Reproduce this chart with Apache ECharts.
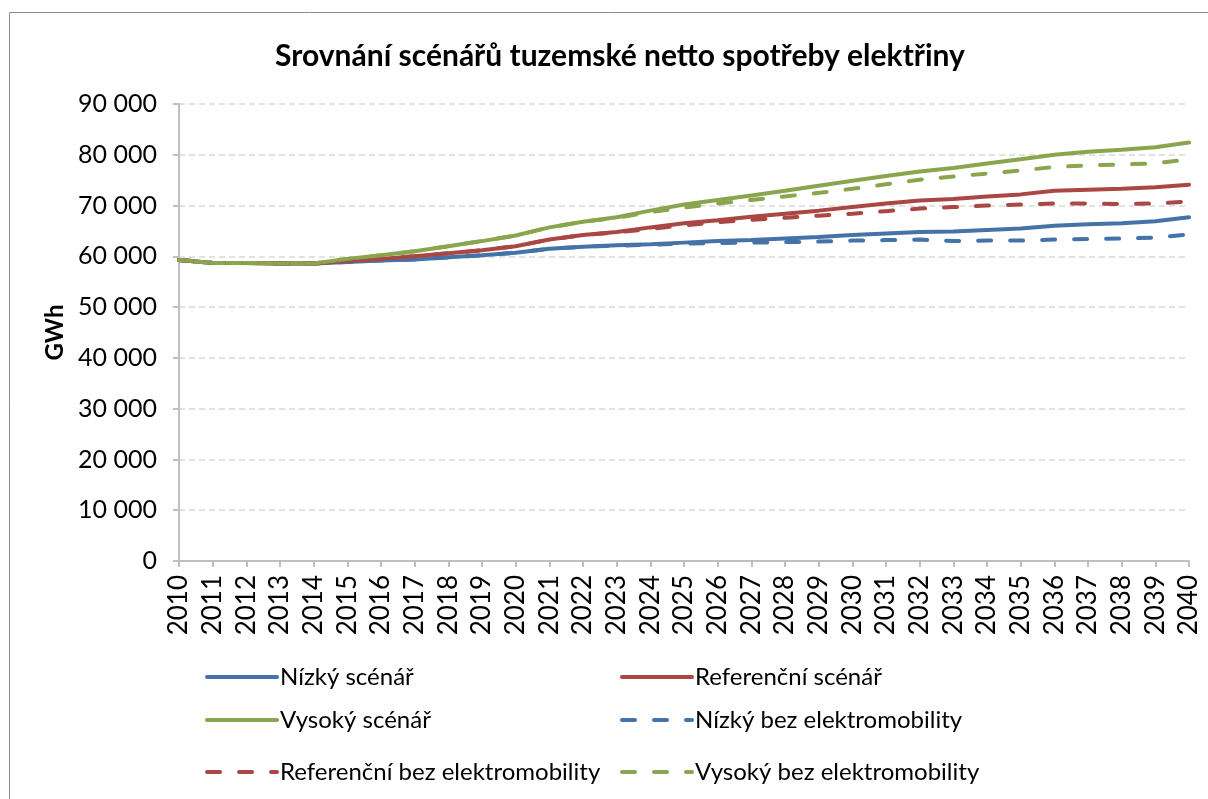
<!DOCTYPE html>
<html>
<head>
<meta charset="utf-8">
<script src="https://cdn.jsdelivr.net/npm/echarts@6/dist/echarts.min.js"></script>
<style>
  html, body { margin: 0; padding: 0; background: #fff; }
  #chart { width: 1208px; height: 799px; }
</style>
</head>
<body>
<div id="chart"></div>
<script>
const years = ['2010','2011','2012','2013','2014','2015','2016','2017','2018','2019','2020',
  '2021','2022','2023','2024','2025','2026','2027','2028','2029','2030',
  '2031','2032','2033','2034','2035','2036','2037','2038','2039','2040']

// GWh
const nizky = [59300, 58700, 58700, 58600, 58600, 58900, 59200, 59400, 59800, 60200, 60700,
  61500, 61900, 62200, 62400, 62700, 63000, 63200, 63500, 63800, 64200,
  64500, 64800, 64900, 65200, 65500, 66000, 66300, 66500, 66900, 67700]
const referencni = [59300, 58700, 58700, 58600, 58600, 59100, 59500, 60000, 60600, 61200, 62000,
  63300, 64200, 64800, 65700, 66500, 67100, 67800, 68400, 69000, 69700,
  70400, 71000, 71300, 71800, 72200, 72900, 73100, 73300, 73600, 74100]
const vysoky = [59300, 58700, 58700, 58600, 58600, 59500, 60200, 61000, 62000, 63000, 64100,
  65700, 66800, 67700, 69000, 70200, 71100, 72000, 72900, 73900, 74900,
  75800, 76700, 77400, 78300, 79100, 80000, 80600, 81000, 81500, 82400]
const nizkyBezEm = [59300, 58700, 58700, 58600, 58600, 58900, 59200, 59400, 59800, 60200, 60700,
  61500, 61900, 62100, 62300, 62500, 62600, 62700, 62800, 62900, 63100,
  63200, 63300, 63000, 63100, 63100, 63300, 63400, 63500, 63700, 64300]
const referencniBezEm = [59300, 58700, 58700, 58600, 58600, 59100, 59500, 60000, 60600, 61200, 62000,
  63300, 64200, 64700, 65400, 66100, 66700, 67200, 67600, 68000, 68400,
  68900, 69400, 69700, 70000, 70200, 70400, 70400, 70300, 70400, 70800]
const vysokyBezEm = [59300, 58700, 58700, 58600, 58600, 59500, 60200, 61000, 62000, 63000, 64100,
  65700, 66800, 67600, 68700, 69600, 70400, 71100, 71800, 72500, 73300,
  74200, 75100, 75700, 76300, 76900, 77600, 77900, 78100, 78300, 79100]

const FONT = 'Lato'
const BLUE = '#4572A7', RED = '#AA4643', GREEN = '#89A54E'

const chart = echarts.init(document.getElementById('chart'), null, { renderer: 'canvas' })

const mkLine = (name, data, color, dashed) => ({
  name,
  type: 'line',
  data,
  symbol: 'none',
  smooth: false,
  lineStyle: { width: 4, color, type: dashed ? [13, 19] : 'solid', cap: 'round' },
  itemStyle: { color },
  z: dashed ? 3 : 2
})

const legendPos = [
  ['Nízký scénář', 200, 660],
  ['Referenční scénář', 615, 660],
  ['Vysoký scénář', 200, 703],
  ['Nízký bez elektromobility', 615, 703],
  ['Referenční bez elektromobility', 200, 755],
  ['Vysoký bez elektromobility', 615, 755]
]

const option = {
  animation: false,
  backgroundColor: '#fff',
  title: {
    text: 'Srovnání scénářů tuzemské netto spotřeby elektřiny',
    left: 615, top: 36, textAlign: 'center',
    textStyle: { fontFamily: FONT, fontSize: 30, fontWeight: 'bold', color: '#000' }
  },
  graphic: [{
    type: 'rect', shape: { x: 9.5, y: 12.5, width: 1210, height: 800 },
    style: { fill: 'none', stroke: '#8c8c8c', lineWidth: 1 }, silent: true
  }],
  legend: legendPos.map(([name, left, top]) => ({
    data: [name], left, top,
    itemWidth: 70, itemHeight: 14, itemGap: 4,
    itemStyle: { opacity: 0 },
    lineStyle: { width: 4 },
    textStyle: { fontFamily: FONT, fontSize: 24, color: '#000', padding: [0, 0, 0, -2] }
  })),
  grid: { left: 179, right: 19, top: 104, bottom: 238 },
  xAxis: {
    type: 'category',
    data: years,
    boundaryGap: false,
    axisLine: { lineStyle: { color: '#bfbfbf', width: 2 } },
    axisTick: { show: true, length: 6, lineStyle: { color: '#bfbfbf', width: 2 } },
    axisLabel: { rotate: 90, interval: 0, margin: 14, fontFamily: FONT, fontSize: 26, color: '#000' },
    splitLine: { show: false }
  },
  yAxis: {
    type: 'value',
    min: 0, max: 90000, interval: 10000,
    name: 'GWh', nameLocation: 'middle', nameGap: 48, nameRotate: 90,
    nameTextStyle: { fontFamily: FONT, fontSize: 24, fontWeight: 'bold', color: '#000' },
    axisLine: { show: true, lineStyle: { color: '#bfbfbf', width: 2 } },
    axisTick: { show: true, length: 6, lineStyle: { color: '#bfbfbf', width: 2 } },
    axisLabel: {
      margin: 22, fontFamily: FONT, fontSize: 25, color: '#000',
      formatter: (v) => String(v).replace(/\B(?=(\d{3})+(?!\d))/g, ' ')
    },
    splitLine: { show: true, lineStyle: { color: '#d9d9d9', type: [6, 4], width: 1.5 } }
  },
  series: [
    mkLine('Nízký scénář', nizky, BLUE, false),
    mkLine('Referenční scénář', referencni, RED, false),
    mkLine('Vysoký scénář', vysoky, GREEN, false),
    mkLine('Nízký bez elektromobility', nizkyBezEm, BLUE, true),
    mkLine('Referenční bez elektromobility', referencniBezEm, RED, true),
    mkLine('Vysoký bez elektromobility', vysokyBezEm, GREEN, true)
  ]
}

chart.setOption(option)
</script>
</body>
</html>
